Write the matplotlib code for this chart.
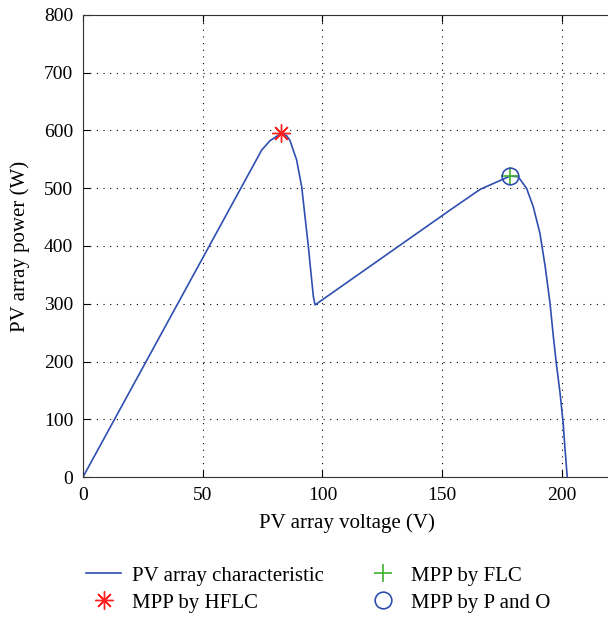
import matplotlib
matplotlib.use('Agg')
from matplotlib import pyplot as plt

# PV curve
voltage = [0, 74.6, 78.0, 82.7, 85.0, 86.4, 89.2, 91.3, 92.7, 94.1, 95.2, 96.2, 96.9,
           153.2, 165.8, 178.3, 181.7, 185.2, 188.0, 190.8, 193.0, 195.0, 196.4,
           197.8, 199.2, 200.5, 201.2, 202.2]
power = [0, 566, 582, 595, 591, 583, 549, 503, 451, 399, 353, 312, 298,
         462, 498, 521, 520, 500, 468, 422, 364, 301, 243,
         191, 145, 93, 52, 0]

mpp_hflc = (82.7, 595)
mpp_flc = (178.3, 521)
mpp_po = (178.3, 521)

plt.rcParams['font.family'] = ['Liberation Serif', 'DejaVu Serif']
plt.rcParams['font.size'] = 14

fig = plt.figure(figsize=(6.08, 6.17), dpi=100)
ax = fig.add_axes([0.1365, 0.2269, 0.8666, 0.7488])

ax.plot(voltage, power, '-', color='#2E4FB0', lw=1.2, label='PV array characteristic')
ax.plot(*mpp_hflc, marker=(8, 2, 0), ls='none', color='#FF2020', ms=13, mew=1.0, label='MPP by HFLC')
ax.plot(*mpp_flc, '+', color='#40B030', ms=13, mew=1.2, label='MPP by FLC')
ax.plot(*mpp_po, 'o', color='#2E4FB0', ms=12, mfc='none', mew=1.2, label='MPP by P and O')

ax.set_xlim(0, 220)
ax.set_ylim(0, 800)
ax.set_xticks([0, 50, 100, 150, 200])
ax.set_yticks(range(0, 801, 100))
ax.grid(True, linestyle=(0, (1, 5)), color='black', lw=0.8)
ax.tick_params(direction='in', top=True, right=False, length=5, pad=7)
for s in ax.spines.values():
    s.set_color('#333333')

ax.set_xlabel('PV array voltage (V)', fontsize=15, labelpad=7)
ax.set_ylabel('PV array power (W)', fontsize=15, labelpad=10)

ax.legend(ncol=2, loc='upper left', bbox_to_anchor=(-0.01, -0.175), frameon=False,
          fontsize=15, columnspacing=2.0, handlelength=1.7, handletextpad=0.5,
          borderaxespad=0, labelspacing=0.35)

plt.savefig('out.png', dpi=100)
